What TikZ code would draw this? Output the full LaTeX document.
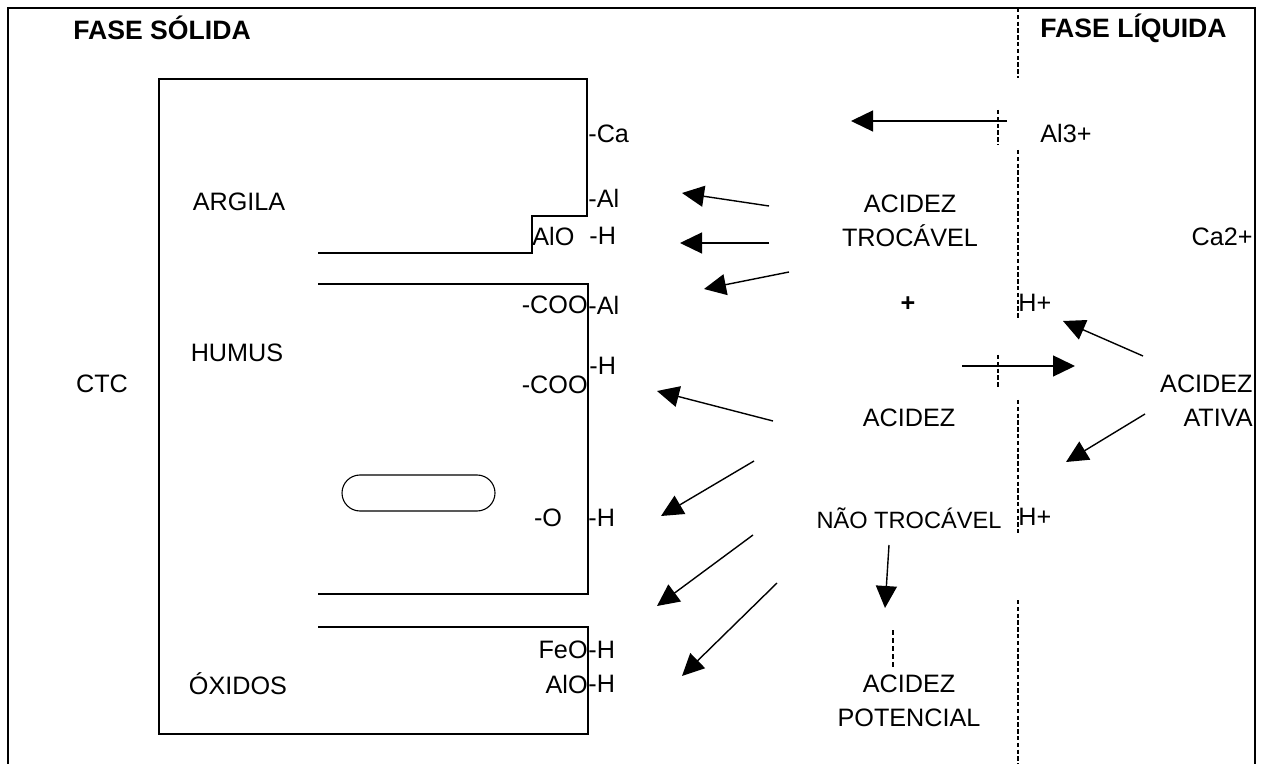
\documentclass[tikz,border=0pt]{standalone}
\usepackage{fontspec}
\setmainfont{Liberation Sans}
\usetikzlibrary{arrows.meta}
\begin{document}
\begin{tikzpicture}[x=0.5pt,y=-0.5pt,
  lbl/.style={inner sep=0pt, font=\fontsize{12.6}{14}\selectfont},
  smalllbl/.style={inner sep=0pt, font=\fontsize{11.8}{13}\selectfont},
  head/.style={inner sep=0pt, font=\fontsize{13.3}{15}\selectfont\bfseries},
  wall/.style={line width=1.1pt},
  arr/.style={line width=0.7pt, -{Triangle[length=11pt,width=10.5pt]}},
  phase/.style={line width=1.3pt, dash pattern=on 2.2pt off 1.2pt},
  frame/.style={line width=1.3pt}]
\useasboundingbox (0,0) rectangle (1269,764);
% outer frame (open at the bottom)
\coordinate (fbl) at (8,770);
\coordinate (ftl) at (8,8);
\coordinate (ftr) at (1255,8);
\coordinate (fbr) at (1255,770);
\draw[frame] (fbl) -- (ftl) -- (ftr) -- (fbr);
% solid phase walls
\draw[wall] (318,253) -- (532,253) -- (532,216) -- (587,216) -- (587,79) -- (159,79)
  -- (159,734) -- (588,734) -- (588,627) -- (318,627);
\draw[wall] (318,284) -- (588,284) -- (588,594) -- (318,594);
\node[draw, line width=0.55pt, rounded corners=9pt, minimum width=76.5pt, minimum height=18pt, inner sep=0pt] (pore) at (418.5,493) {};
% phase boundary
\draw[phase] (1018,8) -- (1018,78);
\draw[phase] (998,110) -- (998,145);
\draw[phase] (1018,150) -- (1018,318);
\draw[phase] (998,355) -- (998,388);
\draw[phase] (1018,400) -- (1018,533);
\draw[phase] (1018,600) -- (1018,764);
\draw[line width=0.7pt, dash pattern=on 2.5pt off 1.5pt] (893,630) -- (893,667);
% headings
\node[head, anchor=west] (fs) at (73,28) {FASE SÓLIDA};
\node[head, anchor=west] (fl) at (1040,28) {FASE LÍQUIDA};
% solid labels
\node[lbl] (argila) at (239,202) {ARGILA};
\node[lbl] (humus) at (237,353) {HUMUS};
\node[lbl] (ctc) at (102,384) {CTC};
\node[lbl] (oxidos) at (238,684) {ÓXIDOS};
% surface groups
\node[lbl, anchor=west] (ca) at (588,134) {-Ca};
\node[lbl, anchor=west] (al) at (588,198) {-Al};
\node[lbl, anchor=west] (alo) at (532,236) {AlO};
\node[lbl, anchor=west] (h1) at (589,236) {-H};
\node[lbl, anchor=east] (coo1) at (588,305) {-COO};
\node[lbl, anchor=west] (al2) at (588,305) {-Al};
\node[lbl, anchor=west] (h2) at (589,366) {-H};
\node[lbl, anchor=east] (coo2) at (588,385) {-COO};
\node[lbl] (o1) at (548,518) {-O};
\node[lbl, anchor=west] (h3) at (588,518) {-H};
\node[lbl, anchor=east] (feo) at (588,650) {FeO};
\node[lbl, anchor=west] (h4) at (588,650) {-H};
\node[lbl, anchor=east] (alo2) at (588,684) {AlO};
\node[lbl, anchor=west] (h5) at (588,684) {-H};
% acidity labels
\node[lbl, align=center] (troc) at (910,221) {ACIDEZ\\[3pt]TROCÁVEL};
\node[lbl, font=\fontsize{12.6}{14}\selectfont\bfseries] (plus) at (908,304) {+};
\node[lbl] (acidez) at (909,418) {ACIDEZ};
\node[smalllbl] (naotroc) at (909,518) {NÃO TROCÁVEL};
\node[lbl, align=center] (pot) at (909,701) {ACIDEZ\\[3pt]POTENCIAL};
\node[lbl, align=right, anchor=east] (ativa) at (1253,401) {ACIDEZ\\[3pt]ATIVA};
% liquid phase
\node[lbl, anchor=west] (al3) at (1040,133) {Al3+};
\node[lbl, anchor=east] (ca2) at (1253,237) {Ca2+};
\node[lbl, anchor=west] (hp1) at (1018,303) {H+};
\node[lbl, anchor=west] (hp2) at (1018,517) {H+};
% arrows
\coordinate (a1s) at (1007,121);  \coordinate (a1e) at (851,121);
\coordinate (a2s) at (769,206);   \coordinate (a2e) at (682,193);
\coordinate (a3s) at (769,243);   \coordinate (a3e) at (680,243);
\coordinate (a4s) at (789,272);   \coordinate (a4e) at (704,289);
\coordinate (a5s) at (773,421);   \coordinate (a5e) at (657,391);
\coordinate (a6s) at (754,461);   \coordinate (a6e) at (661,516);
\coordinate (a7s) at (753,535);   \coordinate (a7e) at (657,606);
\coordinate (a8s) at (777,583);   \coordinate (a8e) at (682,676);
\coordinate (a9s) at (889,545);   \coordinate (a9e) at (885,608);
\coordinate (a10s) at (962,366);  \coordinate (a10e) at (1075,366);
\coordinate (a11s) at (1143,356); \coordinate (a11e) at (1063,321);
\coordinate (a12s) at (1145,414); \coordinate (a12e) at (1066,462);
\foreach \i in {1,...,12} \draw[arr] (a\i s) -- (a\i e);
\end{tikzpicture}
\end{document}
